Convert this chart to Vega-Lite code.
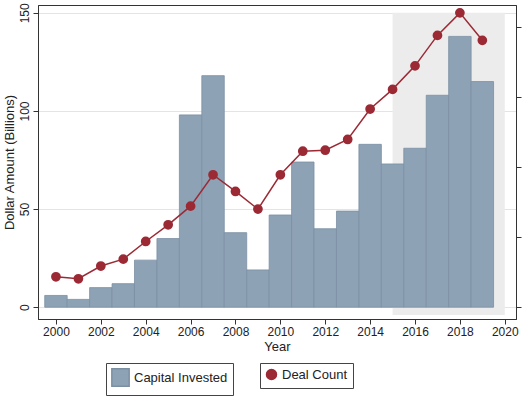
{
"$schema":"https://vega.github.io/schema/vega-lite/v6.json",
"width":478,"height":314,
"padding":{"left":3,"top":2,"right":3,"bottom":2},
"background":"white",
"config":{"font":"Liberation Sans","view":{"stroke":"#333"},"axis":{"labelFontSize":12,"titleFontSize":13,"titleFontWeight":"normal","labelColor":"#222","titleColor":"#222","tickColor":"#333","domainColor":"#333"},"legend":{"labelFontSize":13,"labelColor":"#222"}},
"datasets":{
"bars":[{"year":2000,"v":6},{"year":2001,"v":4},{"year":2002,"v":10},{"year":2003,"v":12},{"year":2004,"v":24},{"year":2005,"v":35},{"year":2006,"v":98},{"year":2007,"v":118},{"year":2008,"v":38},{"year":2009,"v":19},{"year":2010,"v":47},{"year":2011,"v":74},{"year":2012,"v":40},{"year":2013,"v":49},{"year":2014,"v":83},{"year":2015,"v":73},{"year":2016,"v":81},{"year":2017,"v":108},{"year":2018,"v":138},{"year":2019,"v":115}],
"deals":[{"year":2000,"d":15.5},{"year":2001,"d":14.5},{"year":2002,"d":21},{"year":2003,"d":24.5},{"year":2004,"d":33.5},{"year":2005,"d":42},{"year":2006,"d":51.5},{"year":2007,"d":67.5},{"year":2008,"d":59},{"year":2009,"d":50},{"year":2010,"d":67.5},{"year":2011,"d":79.5},{"year":2012,"d":80},{"year":2013,"d":85.5},{"year":2014,"d":101},{"year":2015,"d":111},{"year":2016,"d":123},{"year":2017,"d":138.5},{"year":2018,"d":150},{"year":2019,"d":136}],
"shade":[{"x1":2015,"x2":2020,"y1":-4,"y2":150}]
},
"layer":[
{"data":{"name":"shade"},"mark":{"type":"rect","color":"#ececec"},
 "encoding":{"x":{"field":"x1","type":"quantitative","scale":{"domain":[1999.2,2020.5],"nice":false,"zero":false},"axis":{"values":[2000,2002,2004,2006,2008,2010,2012,2014,2016,2018,2020],"format":"d","title":"Year","grid":false,"titlePadding":3}},"x2":{"field":"x2"},
 "y":{"field":"y1","type":"quantitative","scale":{"domain":[-6,154],"nice":false,"zero":false},"axis":{"values":[0,50,100,150],"title":"Dollar Amount (Billions)","grid":true,"gridColor":"#e4e4e4","labelAngle":-90,"labelAlign":"center","labelBaseline":"bottom","labelPadding":2,"titlePadding":2}},"y2":{"field":"y2"}}},
{"data":{"name":"bars"},"mark":{"type":"rect","stroke":"#7b8fa3","strokeWidth":0.8},
 "transform":[{"calculate":"datum.year-0.5","as":"x1"},{"calculate":"datum.year+0.5","as":"x2"},{"calculate":"'Capital Invested'","as":"s"},{"calculate":"0","as":"zero"}],
 "encoding":{"x":{"field":"x1","type":"quantitative"},"x2":{"field":"x2"},"y":{"field":"v","type":"quantitative","scale":{"domain":[-6,154],"nice":false,"zero":false},"axis":null},"y2":{"field":"zero"},
 "fill":{"field":"s","type":"nominal","scale":{"range":["#8ea2b5"]},"legend":{"title":null,"orient":"none","legendX":68,"legendY":358,"symbolType":"square","symbolSize":300,"strokeColor":"#444","padding":5,"symbolStrokeColor":"#7b8fa3"}}}},
{"data":{"name":"deals"},"mark":{"type":"line","point":{"filled":true,"size":60,"color":"#9b2a35"},"color":"#9b2a35","strokeWidth":1.5},
 "transform":[{"calculate":"'Deal Count'","as":"t"}],
 "encoding":{"x":{"field":"year","type":"quantitative"},"y":{"field":"d","type":"quantitative","scale":{"domain":[-6,154],"nice":false,"zero":false},"axis":{"orient":"right","values":[0,35.75,71.5,107.25,143],"labels":false,"title":null,"grid":false}},
 "stroke":{"field":"t","type":"nominal","scale":{"range":["#9b2a35"]},"legend":{"title":null,"orient":"none","legendX":222,"legendY":358,"symbolType":"circle","strokeColor":"#444","padding":5}}}}
],
"resolve":{"scale":{"y":"independent"}}
}
